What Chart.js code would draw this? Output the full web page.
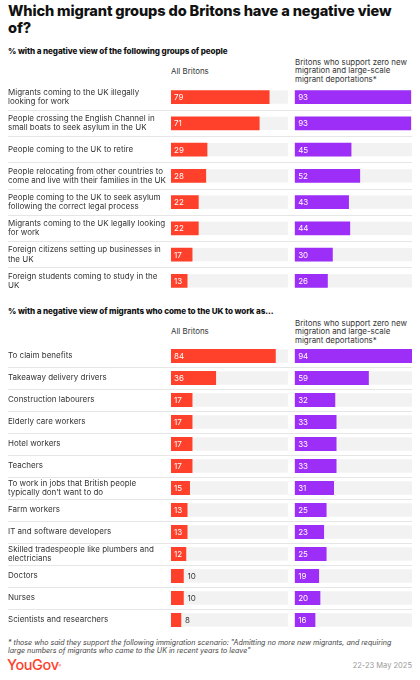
<!DOCTYPE html>
<html><head><meta charset="utf-8">
<script src="https://cdn.jsdelivr.net/npm/chart.js@4.4.0/dist/chart.umd.min.js"></script>
<style>
html,body{margin:0;padding:0;background:#fff;}
body{width:420px;height:680px;position:relative;overflow:hidden;font-family:Inter,"Noto Sans",sans-serif;color:#222;}
.abs{position:absolute;white-space:nowrap;}
#title{left:8px;top:3px;font-size:14.6px;font-weight:800;line-height:16.5px;color:#111;letter-spacing:-0.15px;}
.sub{left:8px;font-size:8.1px;font-weight:800;color:#111;line-height:10px;letter-spacing:-0.1px;}
.hdr{font-size:7.9px;line-height:8.7px;color:#333;}
.c1{left:171px;}
.c2{left:295px;}
.wrap{position:absolute;left:0;width:420px;}
#note{left:8px;top:639px;font-size:7.1px;line-height:8px;font-style:italic;color:#444;}
#logo{left:7px;top:656px;font-size:14.5px;font-weight:500;color:#ff412c;letter-spacing:-0.4px;line-height:17px;}
#logo sup{font-size:4px;vertical-align:top;position:relative;top:1px;}
#date{right:8px;top:661px;font-size:7.5px;color:#9a9a9a;line-height:10px;}
</style>
</head><body>
<div id="title" class="abs">Which migrant groups do Britons have a negative view<br>of?</div>

<div class="abs sub" style="top:45.5px">% with a negative view of the following groups of people</div>
<div class="abs hdr c1" style="top:66.5px">All Britons</div>
<div class="abs hdr c2" style="top:57.5px">Britons who support zero new<br>migration and large-scale<br>migrant deportations*</div>
<div class="wrap" style="top:84px;height:210px"><canvas id="chart1" width="420" height="210"></canvas></div>

<div class="abs sub" style="top:305.5px">% with a negative view of migrants who come to the UK to work as...</div>
<div class="abs hdr c1" style="top:327px">All Britons</div>
<div class="abs hdr c2" style="top:318.5px">Britons who support zero new<br>migration and large-scale<br>migrant deportations*</div>
<div class="wrap" style="top:345px;height:286px"><canvas id="chart2" width="420" height="286"></canvas></div>

<div id="note" class="abs">* those who said they support the following immigration scenario: "Admitting no more new migrants, and requiring<br>large numbers of migrants who came to the UK in recent years to leave"</div>
<div id="logo" class="abs">YouGov<sup>&reg;</sup></div>
<div id="date" class="abs">22-23 May 2025</div>

<script>
// ---- data ----
const groupCategories = [
  ["Migrants coming to the UK illegally", "looking for work"],
  ["People crossing the English Channel in", "small boats to seek asylum in the UK"],
  "People coming to the UK to retire",
  ["People relocating from other countries to", "come and live with their families in the UK"],
  ["People coming to the UK to seek asylum", "following the correct legal process"],
  ["Migrants coming to the UK legally looking", "for work"],
  ["Foreign citizens setting up businesses in", "the UK"],
  ["Foreign students coming to study in the", "UK"]
];
const groupAllBritons = [79, 71, 29, 28, 22, 22, 17, 13];
const groupZeroMigration = [93, 93, 45, 52, 43, 44, 30, 26];

const workCategories = [
  "To claim benefits",
  "Takeaway delivery drivers",
  "Construction labourers",
  "Elderly care workers",
  "Hotel workers",
  "Teachers",
  ["To work in jobs that British people", "typically don\u2019t want to do"],
  "Farm workers",
  "IT and software developers",
  ["Skilled tradespeople like plumbers and", "electricians"],
  "Doctors",
  "Nurses",
  "Scientists and researchers"
];
const workAllBritons = [84, 36, 17, 17, 17, 17, 15, 13, 13, 12, 10, 10, 8];
const workZeroMigration = [94, 59, 32, 33, 33, 33, 31, 25, 23, 25, 19, 20, 16];

const seriesNames = ["All Britons", "Britons who support zero new migration and large-scale migrant deportations*"];

// ---- style ----
const RED = '#ff412c', PURPLE = '#9d2ef7', TRACK = '#f2f2f2', RULE = '#e6e6e6';
const FONT = 'Inter, "Noto Sans", sans-serif';
const scaleMax = Math.max(...groupAllBritons, ...groupZeroMigration, ...workAllBritons, ...workZeroMigration);
const trackW = 117, colGap = 7.3, labelW = 163;

const barDeco = {
  id: 'barDeco',
  beforeDatasetsDraw(chart) {
    const ctx = chart.ctx;
    ctx.save();
    ctx.fillStyle = TRACK;
    chart.data.datasets.forEach((ds, di) => {
      const sc = chart.scales[ds.xAxisID];
      const a = sc.getPixelForValue(0), b = sc.getPixelForValue(sc.max);
      chart.getDatasetMeta(di).data.forEach(bar => {
        const p = bar.getProps(['y', 'height'], true);
        ctx.fillRect(a, p.y - p.height / 2, b - a, p.height);
      });
    });
    ctx.restore();
  },
  afterDatasetsDraw(chart) {
    const ctx = chart.ctx;
    ctx.save();
    ctx.font = '400 8px ' + FONT;
    ctx.textBaseline = 'middle';
    ctx.textAlign = 'left';
    chart.data.datasets.forEach((ds, di) => {
      chart.getDatasetMeta(di).data.forEach((bar, i) => {
        const p = bar.getProps(['x', 'y', 'base'], true);
        const t = String(ds.data[i]);
        const w = ctx.measureText(t).width;
        if (p.x - p.base >= w + 5) {
          ctx.fillStyle = '#ffffff';
          ctx.fillText(t, p.base + 3, p.y + 0.5);
        } else {
          ctx.fillStyle = '#333333';
          ctx.fillText(t, p.x + 4, p.y + 0.5);
        }
      });
    });
    ctx.restore();
  }
};

function makeChart(id, categories, allVals, zeroVals) {
  return new Chart(document.getElementById(id), {
    type: 'bar',
    data: {
      labels: categories,
      datasets: [
        { label: seriesNames[0], data: allVals, backgroundColor: RED, xAxisID: 'x1', yAxisID: 'y' },
        { label: seriesNames[1], data: zeroVals, backgroundColor: PURPLE, xAxisID: 'x2', yAxisID: 'y' }
      ]
    },
    options: {
      indexAxis: 'y',
      responsive: false,
      animation: false,
      events: [],
      layout: { padding: { left: 8, right: 8, top: 0, bottom: 0 } },
      datasets: { bar: { grouped: false, barThickness: 13.3, borderWidth: 0 } },
      plugins: { legend: { display: false }, tooltip: { enabled: false }, title: { display: false } },
      scales: {
        y: {
          type: 'category',
          position: 'left',
          offset: true,
          border: { display: false },
          grid: {
            offset: true,
            drawTicks: true,
            tickLength: labelW,
            lineWidth: 1,
            color: c => (c.index >= 1 ? RULE : 'rgba(0,0,0,0)')
          },
          ticks: {
            autoSkip: false,
            crossAlign: 'far',
            padding: 0,
            color: '#333',
            font: { family: FONT, size: 8, lineHeight: 1.17 }
          },
          afterFit: s => { s.width = labelW; s.paddingTop = 0; s.paddingBottom = 0; }
        },
        x1: {
          type: 'linear', position: 'bottom', display: false,
          stack: 'cols', stackWeight: trackW,
          min: 0, max: scaleMax
        },
        x2: {
          type: 'linear', position: 'bottom', display: false,
          stack: 'cols', stackWeight: trackW + colGap,
          min: -scaleMax * colGap / trackW, max: scaleMax
        }
      }
    },
    plugins: [barDeco]
  });
}

makeChart('chart1', groupCategories, groupAllBritons, groupZeroMigration);
makeChart('chart2', workCategories, workAllBritons, workZeroMigration);
</script>
</body></html>
